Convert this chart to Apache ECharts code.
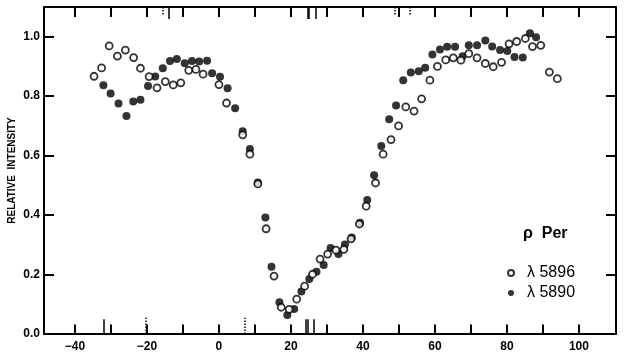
<!DOCTYPE html>
<html>
<head>
<meta charset="utf-8">
<script src="https://cdn.jsdelivr.net/npm/echarts@6/dist/echarts.min.js"></script>
<style>
  html, body { margin: 0; padding: 0; background: #fff; }
  #chart { width: 626px; height: 358px; }
</style>
</head>
<body>
<div id="chart"></div>
<script>
// open circles, lambda 5896
var open5896 = [
  [-34.7,0.867],[-32.6,0.895],[-30.5,0.969],[-28.2,0.935],[-26.0,0.955],[-23.7,0.930],
  [-21.8,0.894],[-19.4,0.866],[-17.2,0.828],[-14.9,0.849],[-12.7,0.838],[-10.6,0.845],
  [-8.4,0.887],[-6.4,0.890],[-4.4,0.874],[0.0,0.839],[2.1,0.777],[6.6,0.670],[8.6,0.605],
  [10.8,0.505],[13.1,0.354],[15.3,0.195],[17.3,0.090],[19.5,0.083],[21.6,0.117],[23.8,0.161],
  [26.0,0.201],[28.1,0.252],[30.2,0.269],[32.5,0.282],[34.7,0.285],[36.7,0.320],[39.0,0.370],
  [40.9,0.430],[43.5,0.508],[45.6,0.605],[47.8,0.654],[49.9,0.700],[51.9,0.764],[54.2,0.750],
  [56.3,0.791],[58.6,0.854],[60.7,0.900],[63.0,0.922],[65.1,0.929],[67.2,0.921],[69.4,0.943],
  [71.7,0.929],[74.0,0.910],[76.2,0.899],[78.5,0.914],[80.6,0.976],[82.7,0.984],[85.1,0.994],
  [87.1,0.967],[89.4,0.971],[91.8,0.881],[94.0,0.859]
];
// filled circles, lambda 5890
var filled5890 = [
  [-32.1,0.837],[-30.1,0.809],[-27.9,0.775],[-25.7,0.733],[-23.8,0.782],[-21.8,0.788],
  [-19.7,0.834],[-17.7,0.866],[-15.6,0.894],[-13.6,0.918],[-11.7,0.925],[-9.5,0.911],
  [-7.5,0.918],[-5.5,0.917],[-3.3,0.919],[-1.9,0.877],[0.3,0.865],[2.4,0.827],[4.5,0.759],
  [6.6,0.682],[8.6,0.622],[10.8,0.510],[12.9,0.392],[14.6,0.226],[16.8,0.107],[19.0,0.064],
  [20.9,0.084],[22.9,0.143],[25.1,0.185],[27.1,0.209],[29.1,0.232],[31.0,0.289],[33.2,0.269],
  [35.0,0.301],[36.9,0.325],[39.2,0.374],[41.2,0.451],[43.1,0.534],[45.1,0.632],[47.3,0.722],
  [49.2,0.769],[51.2,0.854],[53.3,0.880],[55.5,0.884],[57.3,0.896],[59.3,0.940],[61.4,0.957],
  [63.4,0.966],[65.6,0.966],[67.7,0.934],[69.4,0.971],[71.7,0.971],[74.0,0.987],[75.9,0.967],
  [78.1,0.955],[80.1,0.952],[82.1,0.932],[84.4,0.930],[86.4,1.012],[88.1,0.998]
];

var xLabels = [-40, -20, 0, 20, 40, 60, 80, 100];
var xTickStep = 10;
var xTickFirst = -40;
var xTickLast = 100;
var yLabels = [0, 0.2, 0.4, 0.6, 0.8, 1.0];

// extra line markers drawn along the frame in the original figure
var bottomMarks = [-32, 24, 24.6, 26.4];
var bottomDotted = [-20.3, 7.2];
var topMarks = [-14, 24.6, 25, 27];
var topDotted = [-15.5, 48.9, 53];

var font = '"Liberation Sans", Arial, sans-serif';

var xTicks = [];
for (var t = xTickFirst; t <= xTickLast; t += xTickStep) xTicks.push(t);

function seg(list, y0, y1) {
  return list.map(function (x) {
    return [{ coord: [x, y0] }, { coord: [x, y1] }];
  });
}

var myChart = echarts.init(document.getElementById('chart'));

var tickStyle = { color: '#000', width: 2 };

var option = {
  animation: false,
  backgroundColor: '#fff',
  grid: { left: 44, right: 10, top: 7, bottom: 24, outerBoundsMode: 'none' },
  legend: {
    orient: 'vertical',
    left: 502,
    top: 260,
    itemWidth: 6,
    itemHeight: 6,
    itemGap: 4,
    icon: 'circle',
    data: ['λ 5896', 'λ 5890'],
    textStyle: { fontFamily: font, fontSize: 16, color: '#000', padding: [0, 0, 0, 8] }
  },
  graphic: [
    {
      type: 'text',
      left: 523,
      top: 226,
      style: { text: 'ρ  Per', fontFamily: font, fontSize: 16, fontWeight: 'bold', fill: '#000' }
    }
  ],
  xAxis: [
    {
      type: 'value',
      min: -48.6,
      max: 110.3,
      axisLine: { onZero: false, lineStyle: { color: '#000', width: 2 } },
      axisTick: { show: false },
      axisLabel: {
        customValues: xLabels,
        color: '#000',
        fontFamily: font,
        fontWeight: 'bold',
        fontSize: 12,
        margin: 7,
        formatter: function (v) { return v < 0 ? '\u2212' + Math.abs(v) : String(v); }
      },
      splitLine: { show: false }
    },
    {
      type: 'value',
      position: 'top',
      min: -48.6,
      max: 110.3,
      axisLine: { show: true, onZero: false, lineStyle: { color: '#000', width: 2 } },
      axisTick: { show: false },
      axisLabel: { show: false },
      splitLine: { show: false }
    }
  ],
  yAxis: [
    {
      type: 'value',
      min: 0,
      max: 1.1,
      name: 'RELATIVE  INTENSITY',
      nameLocation: 'middle',
      nameGap: 27,
      nameMoveOverlap: false,
      nameTextStyle: { fontFamily: font, fontWeight: 'bold', fontSize: 10, color: '#000' },
      axisLine: { show: true, onZero: false, lineStyle: { color: '#000', width: 2 } },
      axisTick: { show: true, inside: true, length: 10, customValues: yLabels, lineStyle: tickStyle },
      axisLabel: {
        customValues: yLabels,
        color: '#000',
        fontFamily: font,
        fontWeight: 'bold',
        fontSize: 12,
        margin: 4,
        formatter: function (v) { return v.toFixed(1); }
      },
      splitLine: { show: false }
    },
    {
      type: 'value',
      position: 'right',
      min: 0,
      max: 1.1,
      axisLine: { show: true, onZero: false, lineStyle: { color: '#000', width: 2 } },
      axisTick: { show: true, inside: true, length: 10, customValues: yLabels, lineStyle: tickStyle },
      axisLabel: { show: false, customValues: yLabels },
      splitLine: { show: false }
    }
  ],
  series: [
    {
      name: 'λ 5896',
      type: 'scatter',
      data: open5896,
      symbol: 'circle',
      symbolSize: 7,
      itemStyle: { color: '#fff', borderColor: '#000', borderWidth: 1.8 },
      z: 3
    },
    {
      name: 'λ 5890',
      type: 'scatter',
      data: filled5890,
      symbol: 'circle',
      symbolSize: 8,
      itemStyle: { color: '#000' },
      z: 2
    },
    {
      // frame ticks every 10 units on x, bottom and top edges
      type: 'scatter',
      data: [],
      silent: true,
      markLine: {
        symbol: 'none',
        silent: true,
        label: { show: false },
        lineStyle: { color: '#000', width: 2, type: 'solid' },
        data: seg(xTicks, 0, 0.032).concat(seg(xTicks, 1.1, 1.066))
      }
    },
    {
      type: 'scatter',
      data: [],
      silent: true,
      markLine: {
        symbol: 'none',
        silent: true,
        label: { show: false },
        lineStyle: { color: '#000', width: 1.5, type: 'solid' },
        data: seg(bottomMarks, 0, 0.05).concat(seg(topMarks, 1.1, 1.06))
      }
    },
    {
      type: 'scatter',
      data: [],
      silent: true,
      markLine: {
        symbol: 'none',
        silent: true,
        label: { show: false },
        lineStyle: { color: '#000', width: 1.5, type: [1.5, 1.5] },
        data: seg(bottomDotted, 0, 0.055).concat(seg(topDotted, 1.1, 1.07))
      }
    }
  ]
};

myChart.setOption(option);
</script>
</body>
</html>
